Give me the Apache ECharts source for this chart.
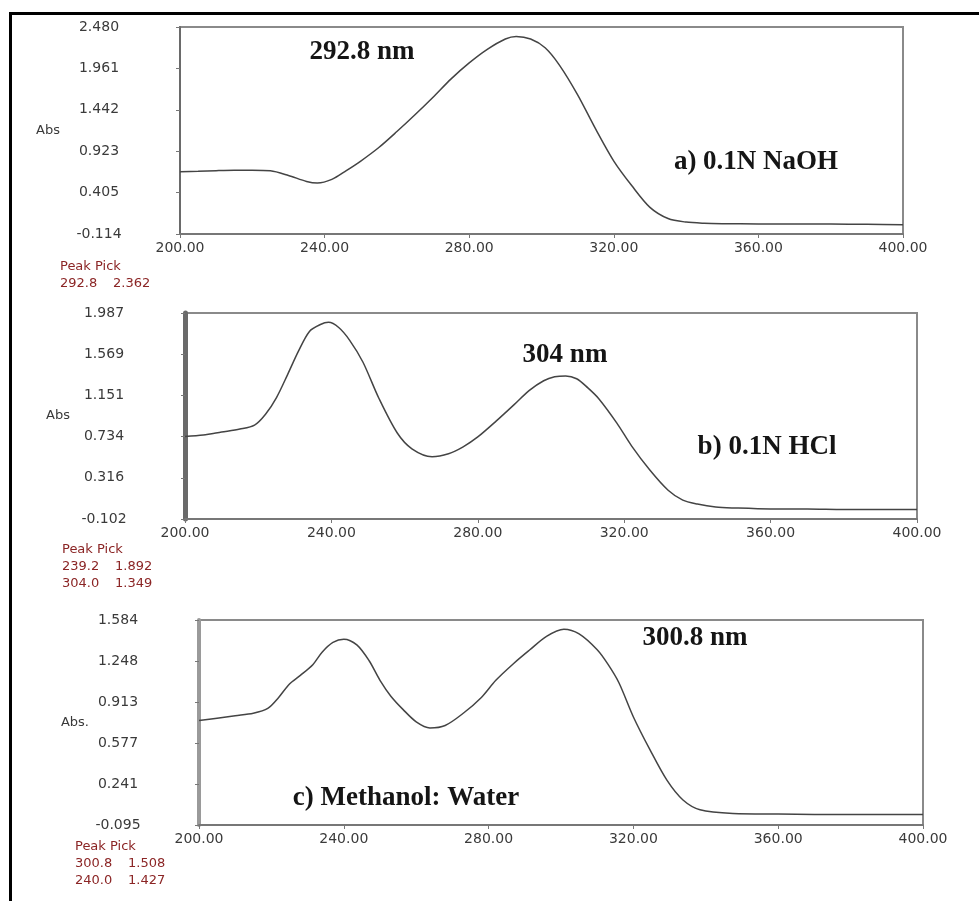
<!doctype html>
<html lang="en">
<head>
    <meta charset="UTF-8">
    <title>UV spectra</title>
    <script type="text/javascript" src="https://cdn.jsdelivr.net/npm/echarts@6.0.0/dist/echarts.min.js"></script>
    <style>
        html, body { margin: 0; padding: 0; background: #fff; }
        #main { width: 979px; height: 901px; }
    </style>
</head>
<body>
<div id="main"></div>
<script type="text/javascript">
    // a) 0.1N NaOH
    var waveA = [200, 205, 210, 215, 220, 225, 230, 235, 238, 242, 246, 250, 255, 260, 265, 270, 275, 280, 285, 290, 293, 297, 301, 305, 310, 315, 320, 325, 330, 335, 340, 345, 350, 360, 370, 380, 390, 400];
    var absA  = [0.665, 0.672, 0.68, 0.685, 0.685, 0.678, 0.62, 0.545, 0.525, 0.57, 0.68, 0.80, 0.97, 1.17, 1.38, 1.60, 1.83, 2.03, 2.20, 2.33, 2.362, 2.33, 2.22, 2.00, 1.63, 1.20, 0.80, 0.49, 0.22, 0.08, 0.035, 0.02, 0.015, 0.012, 0.01, 0.01, 0.008, 0.002];
    var yTicksA = [-0.114, 0.405, 0.923, 1.442, 1.961, 2.480];
    var peaksA = [[292.8, 2.362]];

    // b) 0.1N HCl
    var waveB = [200, 205, 210, 215, 219, 222, 225, 228, 231, 234, 237, 239.2, 242, 245, 248.6, 253, 258, 262, 267.5, 272, 276, 280, 285, 290, 294, 298, 301, 304, 307, 310, 313, 318, 322, 327, 332, 336, 340, 345, 350, 360, 370, 380, 390, 400];
    var absB  = [0.735, 0.75, 0.78, 0.81, 0.85, 0.96, 1.13, 1.36, 1.60, 1.80, 1.87, 1.892, 1.84, 1.71, 1.49, 1.12, 0.77, 0.61, 0.53, 0.56, 0.63, 0.73, 0.89, 1.06, 1.20, 1.30, 1.34, 1.349, 1.32, 1.23, 1.12, 0.87, 0.64, 0.395, 0.19, 0.09, 0.05, 0.02, 0.01, 0.0, 0.0, -0.005, -0.005, -0.005];
    var yTicksB = [-0.102, 0.316, 0.734, 1.151, 1.569, 1.987];
    var peaksB = [[239.2, 1.892], [304.0, 1.349]];

    // c) Methanol: Water
    var waveC = [200, 205, 210, 215, 219, 222, 225, 228, 231.5, 234, 237, 240, 243.6, 247, 250, 253, 256.4, 260, 263.8, 268, 273, 278, 282, 287, 291.4, 296, 300.8, 305, 310, 313, 316, 320, 324.6, 329.3, 333.7, 338.4, 347.5, 360, 380, 400];
    var absC  = [0.76, 0.78, 0.80, 0.82, 0.86, 0.95, 1.06, 1.13, 1.22, 1.32, 1.40, 1.427, 1.38, 1.25, 1.09, 0.96, 0.85, 0.75, 0.70, 0.72, 0.82, 0.95, 1.09, 1.23, 1.34, 1.45, 1.508, 1.47, 1.34, 1.22, 1.07, 0.79, 0.52, 0.27, 0.11, 0.03, 0.0, -0.005, -0.01, -0.01];
    var yTicksC = [-0.095, 0.241, 0.577, 0.913, 1.248, 1.584];
    var peaksC = [[300.8, 1.508], [240.0, 1.427]];

    var xTicks = [200, 240, 280, 320, 360, 400];

    function zip(xs, ys) {
        var out = [];
        for (var i = 0; i < xs.length; i++) out.push([xs[i], ys[i]]);
        return out;
    }

    var tickFont = {fontFamily: 'DejaVu Sans', fontSize: 14, color: '#3a3a3a'};

    // one panel = grid + axes + series
    var grids = [
        {left: 180, top: 27, width: 723, height: 207, axisW: 2, axisC: '#6a6a6a', nameGap: 120, yName: 'Abs'},
        {left: 185, top: 313, width: 732, height: 206, axisW: 5, axisC: '#6a6a6a', nameGap: 115, yName: 'Abs'},
        {left: 199, top: 620, width: 724, height: 205, axisW: 4, axisC: '#9a9a9a', nameGap: 110, yName: 'Abs.'}
    ];
    var yTicks = [yTicksA, yTicksB, yTicksC];
    var seriesData = [zip(waveA, absA), zip(waveB, absB), zip(waveC, absC)];

    var option = {
        backgroundColor: '#fff',
        animation: false,
        grid: [], xAxis: [], yAxis: [], series: [], graphic: []
    };

    grids.forEach(function (g, i) {
        option.grid.push({
            left: g.left, top: g.top, width: g.width, height: g.height,
            show: true, borderColor: '#8a8a8a', borderWidth: 2, containLabel: false
        });
        option.xAxis.push({
            type: 'value', gridIndex: i, min: 200, max: 400,
            axisLine: {onZero: false, lineStyle: {color: '#777', width: 2}},
            axisTick: {show: true, length: 4, lineStyle: {color: '#777'}, customValues: xTicks},
            splitLine: {show: false},
            axisLabel: Object.assign({margin: 7, customValues: xTicks, formatter: function (v) {
                return v.toFixed(2);
            }}, tickFont)
        });
        option.yAxis.push({
            type: 'value', gridIndex: i,
            min: yTicks[i][0], max: yTicks[i][yTicks[i].length - 1],
            name: g.yName, nameLocation: 'middle', nameRotate: 0, nameGap: g.nameGap,
            nameTextStyle: {fontFamily: 'DejaVu Sans', fontSize: 13, color: '#3a3a3a', padding: [14, 0, 0, 0]},
            axisLine: {show: true, onZero: false, lineStyle: {color: g.axisC, width: g.axisW}},
            axisTick: {show: true, length: 4, lineStyle: {color: '#777'}, customValues: yTicks[i]},
            splitLine: {show: false},
            axisLabel: Object.assign({margin: 81, align: 'center', customValues: yTicks[i], formatter: function (v) {
                return v.toFixed(3);
            }}, tickFont)
        });
        option.series.push({
            type: 'line', xAxisIndex: i, yAxisIndex: i,
            data: seriesData[i], smooth: 0.3, showSymbol: false,
            lineStyle: {color: '#444', width: 1.5}
        });
    });

    // outer frame
    option.graphic.push({
        type: 'rect', left: 8, top: 11,
        shape: {width: 1100, height: 1000},
        style: {fill: 'none', stroke: '#000', lineWidth: 3}
    });

    // annotations inside plots
    var serif = {fontFamily: 'Liberation Serif', fontWeight: 'bold', fontSize: 27, fill: '#151515'};
    var notes = [
        ['292.8 nm', 362, 52], ['a) 0.1N NaOH', 756, 162],
        ['304 nm', 565, 355], ['b) 0.1N HCl', 767, 447],
        ['300.8 nm', 695, 638], ['c) Methanol: Water', 406, 798]
    ];
    notes.forEach(function (n) {
        option.graphic.push({
            type: 'text', x: n[1], y: n[2],
            style: Object.assign({text: n[0], textAlign: 'center', textVerticalAlign: 'middle'}, serif)
        });
    });

    // Peak Pick tables
    var peakStyle = {fontFamily: 'DejaVu Sans', fontSize: 13, fill: '#8b2525', textVerticalAlign: 'middle'};
    var peakBlocks = [
        {peaks: peaksA, x: 60, y: 267},
        {peaks: peaksB, x: 62, y: 550},
        {peaks: peaksC, x: 75, y: 847}
    ];
    peakBlocks.forEach(function (b) {
        option.graphic.push({type: 'text', x: b.x, y: b.y, style: Object.assign({text: 'Peak Pick'}, peakStyle)});
        b.peaks.forEach(function (p, k) {
            var yy = b.y + 17 * (k + 1);
            option.graphic.push({type: 'text', x: b.x, y: yy, style: Object.assign({text: p[0].toFixed(1)}, peakStyle)});
            option.graphic.push({type: 'text', x: b.x + 53, y: yy, style: Object.assign({text: p[1].toFixed(3)}, peakStyle)});
        });
    });

    var myChart = echarts.init(document.getElementById('main'));
    myChart.setOption(option);
</script>
</body>
</html>
